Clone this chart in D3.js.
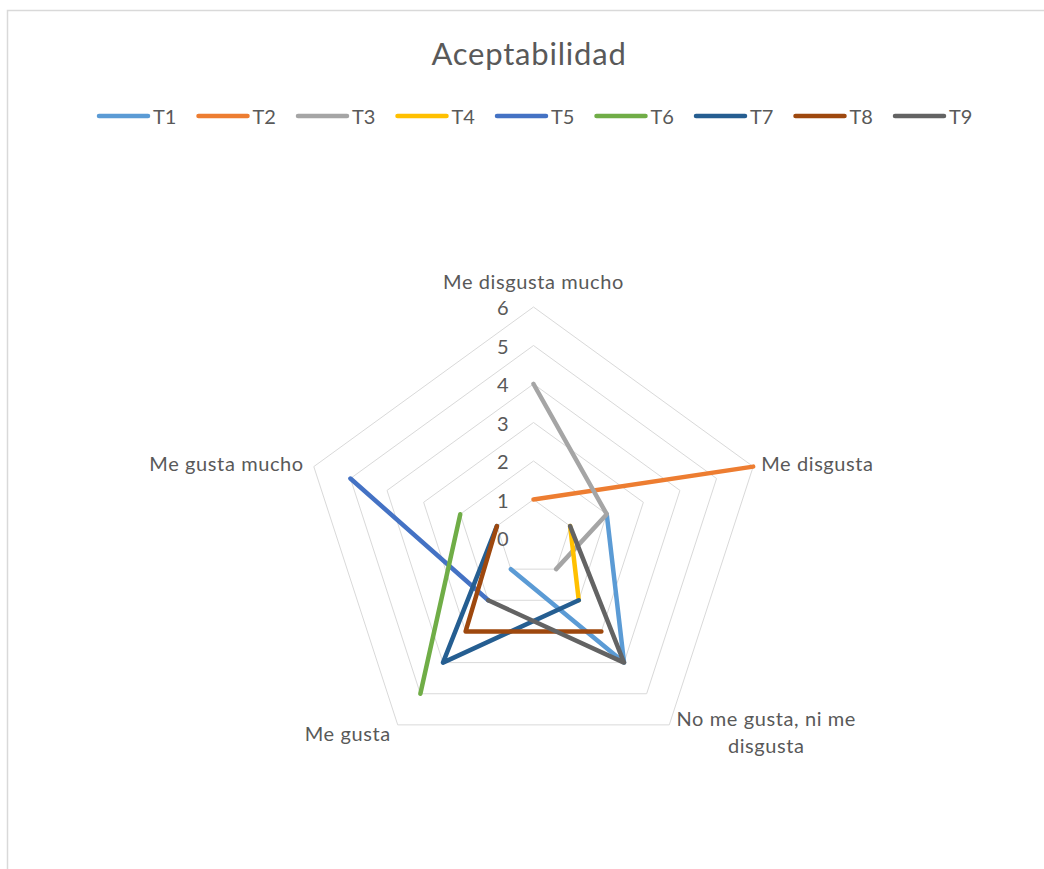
<!DOCTYPE html>
<html>
<head>
<meta charset="utf-8">
<script src="https://cdn.jsdelivr.net/npm/d3@7"></script>
<style>
  html, body { margin: 0; padding: 0; background: #fff; }
  svg { display: block; font-family: Lato, "Open Sans", sans-serif; }
</style>
</head>
<body>
<svg id="chart" width="1044" height="869"></svg>
<script>
// ---- data ----
const title = "Aceptabilidad";
const categories = ["Me disgusta mucho", "Me disgusta", "No me gusta, ni me disgusta", "Me gusta", "Me gusta mucho"];
const seriesNames = ["T1", "T2", "T3", "T4", "T5", "T6", "T7", "T8", "T9"];
const T1 = [null, 2, 4, 1, null];
const T2 = [1, 6, null, null, null];
const T3 = [4, 2, 1, null, null];
const T4 = [null, 1, 2, null, null];
const T5 = [null, null, null, 2, 5];
const T6 = [null, null, null, 5, 2];
const T7 = [null, null, 2, 4, 1];
const T8 = [null, null, 3, 3, 1];
const T9 = [null, 1, 4, 2, null];
const seriesValues = [T1, T2, T3, T4, T5, T6, T7, T8, T9];
const tickValues = [0, 1, 2, 3, 4, 5, 6];
const colors = ["#5B9BD5", "#ED7D31", "#A5A5A5", "#FFC000", "#4472C4", "#70AD47", "#255E91", "#9E480E", "#636363"];

// ---- layout ----
const svg = d3.select("#chart");
const W = 1044, H = 869;
const cx = 533.5, cy = 538, R = 231;
const rScale = d3.scaleLinear().domain([0, 6]).range([0, R]);
const n = categories.length;
const angle = i => i * 2 * Math.PI / n;
const pt = (i, v) => [cx + rScale(v) * Math.sin(angle(i)), cy - rScale(v) * Math.cos(angle(i))];
const textColor = "#595959";

// border
svg.append("path")
  .attr("d", `M7.5,${H} L7.5,10.5 L${W},10.5`)
  .attr("fill", "none").attr("stroke", "#d9d9d9").attr("stroke-width", 1.5);

// title
svg.append("text")
  .attr("x", 529).attr("y", 53)
  .attr("text-anchor", "middle").attr("dominant-baseline", "central")
  .attr("fill", textColor).attr("font-size", 31).attr("letter-spacing", 0.8)
  .text(title);

// legend
const leg = svg.append("g");
seriesNames.forEach((s, i) => {
  const x0 = 97 + i * 99.5, y0 = 116;
  leg.append("line").attr("x1", x0 + 2).attr("x2", x0 + 51).attr("y1", y0).attr("y2", y0)
    .attr("stroke", colors[i]).attr("stroke-width", 4.5).attr("stroke-linecap", "round");
  leg.append("text").attr("x", x0 + 56).attr("y", y0)
    .attr("dominant-baseline", "central").attr("fill", textColor).attr("font-size", 20)
    .text(s);
});

// grid rings
const ringLine = d3.line();
tickValues.filter(v => v > 0).forEach(v => {
  const pts = d3.range(n).map(i => pt(i, v));
  svg.append("path").attr("d", ringLine(pts) + "Z")
    .attr("fill", "none").attr("stroke", "#d9d9d9").attr("stroke-width", 1);
});

// tick labels
tickValues.forEach(v => {
  svg.append("text").attr("x", cx - 25).attr("y", cy - rScale(v))
    .attr("text-anchor", "end").attr("dominant-baseline", "central")
    .attr("fill", textColor).attr("font-size", 20).text(v);
});

// category labels
const lab = svg.append("g").attr("fill", textColor).attr("font-size", 20).attr("letter-spacing", 0.6);
const vTop = pt(0, 6), v1 = pt(1, 6), v2 = pt(2, 6), v3 = pt(3, 6), v4 = pt(4, 6);
lab.append("text").attr("x", vTop[0]).attr("y", vTop[1] - 26)
  .attr("text-anchor", "middle").attr("dominant-baseline", "central").text(categories[0]);
lab.append("text").attr("x", v1[0] + 8).attr("y", v1[1] - 4)
  .attr("text-anchor", "start").attr("dominant-baseline", "central").text(categories[1]);
const t2 = lab.append("text").attr("text-anchor", "middle").attr("dominant-baseline", "central");
t2.append("tspan").attr("x", v2[0] + 97).attr("y", v2[1] - 7).text("No me gusta, ni me");
t2.append("tspan").attr("x", v2[0] + 97).attr("y", v2[1] + 20).text("disgusta");
lab.append("text").attr("x", v3[0] - 7).attr("y", v3[1] + 8)
  .attr("text-anchor", "end").attr("dominant-baseline", "central").text(categories[3]);
lab.append("text").attr("x", v4[0] - 10).attr("y", v4[1] - 4)
  .attr("text-anchor", "end").attr("dominant-baseline", "central").text(categories[4]);

// series
const line = d3.line()
  .defined(d => d.v != null)
  .x(d => pt(d.i, d.v)[0])
  .y(d => pt(d.i, d.v)[1]);
seriesValues.forEach((vals, k) => {
  const data = vals.map((v, i) => ({ i, v }));
  data.push({ i: 0, v: vals[0] }); // close the loop
  svg.append("path").attr("d", line(data))
    .attr("fill", "none").attr("stroke", colors[k]).attr("stroke-width", 4.5)
    .attr("stroke-linejoin", "round").attr("stroke-linecap", "round");
});
</script>
</body>
</html>
